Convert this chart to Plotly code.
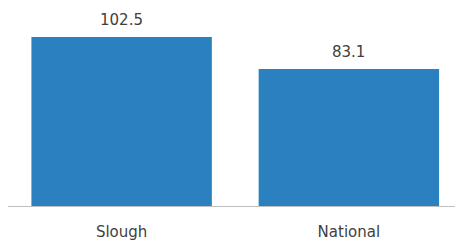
import plotly.graph_objects as go

categories = ["Slough", "National"]
values = [102.5, 83.1]
value_labels = ["102.5", "83.1"]

bar_color = "#2b80bf"
text_color = "#404040"
font_family = "DejaVu Sans"

fig = go.Figure()
fig.add_trace(go.Bar(
    x=categories,
    y=values,
    width=0.794,
    marker=dict(color=bar_color, line=dict(width=0)),
    hoverinfo="skip",
))

for c, v, t in zip(categories, values, value_labels):
    fig.add_annotation(
        x=c, y=v, text=t, showarrow=False,
        yanchor="bottom", yshift=6,
        font=dict(family=font_family, size=15, color=text_color),
    )

fig.update_layout(
    width=455, height=240,
    margin=dict(l=8, r=0, t=0, b=34),
    paper_bgcolor="white", plot_bgcolor="white",
    showlegend=False,
    font=dict(family=font_family, size=15, color=text_color),
    xaxis=dict(
        range=[-0.5, 1.467],
        showline=True, linecolor="#bfbfbf", linewidth=1,
        showgrid=False, zeroline=False,
        ticks="", ticklabelstandoff=12,
        automargin=False,
        tickfont=dict(family=font_family, size=15, color=text_color),
    ),
    yaxis=dict(
        range=[0, 124.9],
        visible=False, showgrid=False, zeroline=False,
    ),
)

fig.write_html(
    "out.html",
    config={"displayModeBar": False},
    post_script="document.body.style.margin='0';",
)
